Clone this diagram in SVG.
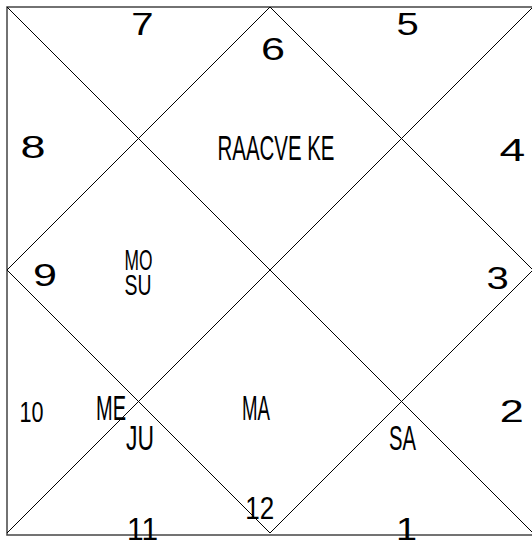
<svg xmlns="http://www.w3.org/2000/svg" width="532" height="540" viewBox="0 0 532 540">
<style>
.ln{stroke:#000;stroke-width:1;fill:none}
.bd{stroke:#444;stroke-width:1.5;fill:none}
.t{font-family:"Liberation Sans",Arial,sans-serif;fill:#000}
.n{font-size:31px}
.p{font-size:35px}
</style>
<rect width="532" height="540" fill="#fff"/>
<g id="connectors">
<rect class="bd" x="7" y="7" width="527" height="528"/>
<line class="ln" x1="7" y1="7" x2="533" y2="533"/>
<line class="ln" x1="533" y1="7" x2="7" y2="533"/>
<polygon class="ln" points="270,7 533,270 270,533 7,270"/>
</g>
<g id="house1"><text class="t n" x="396" y="540" textLength="21" lengthAdjust="spacingAndGlyphs">1</text></g>
<g id="house2"><text class="t n" x="499.7" y="422" textLength="24" lengthAdjust="spacingAndGlyphs">2</text></g>
<g id="house3"><text class="t n" x="486.4" y="289" textLength="22.3" lengthAdjust="spacingAndGlyphs">3</text></g>
<g id="house4"><text class="t n" x="499.5" y="161" textLength="25.7" lengthAdjust="spacingAndGlyphs">4</text></g>
<g id="house5"><text class="t n" x="396.4" y="35" textLength="22.3" lengthAdjust="spacingAndGlyphs">5</text></g>
<g id="house6"><text class="t n" x="261" y="60" textLength="24" lengthAdjust="spacingAndGlyphs">6</text>
<text class="t p" x="217.5" y="160" textLength="117" lengthAdjust="spacingAndGlyphs">RAACVE KE</text></g>
<g id="house7"><text class="t n" x="131.3" y="35" textLength="22.3" lengthAdjust="spacingAndGlyphs">7</text></g>
<g id="house8"><text class="t n" x="20.5" y="158" textLength="25" lengthAdjust="spacingAndGlyphs">8</text></g>
<g id="house9"><text class="t n" x="33" y="286" textLength="24" lengthAdjust="spacingAndGlyphs">9</text>
<text class="t" font-size="30" x="124.5" y="270" textLength="28" lengthAdjust="spacingAndGlyphs">MO</text>
<text class="t" font-size="30" x="124.5" y="295" textLength="27" lengthAdjust="spacingAndGlyphs">SU</text></g>
<g id="house10"><text class="t" font-size="29" x="19.5" y="422" textLength="24" lengthAdjust="spacingAndGlyphs">10</text>
<text class="t p" x="96" y="420" textLength="30" lengthAdjust="spacingAndGlyphs">ME</text></g>
<g id="house11"><text class="t n" x="127" y="540" textLength="31" lengthAdjust="spacingAndGlyphs">11</text>
<text class="t p" x="126" y="450" textLength="28" lengthAdjust="spacingAndGlyphs">JU</text></g>
<g id="house12"><text class="t n" x="245.2" y="519" textLength="28.9" lengthAdjust="spacingAndGlyphs">12</text>
<text class="t p" x="242" y="420" textLength="28" lengthAdjust="spacingAndGlyphs">MA</text></g>
<g id="house1b"><text class="t p" x="389" y="450" textLength="27" lengthAdjust="spacingAndGlyphs">SA</text></g>
</svg>
